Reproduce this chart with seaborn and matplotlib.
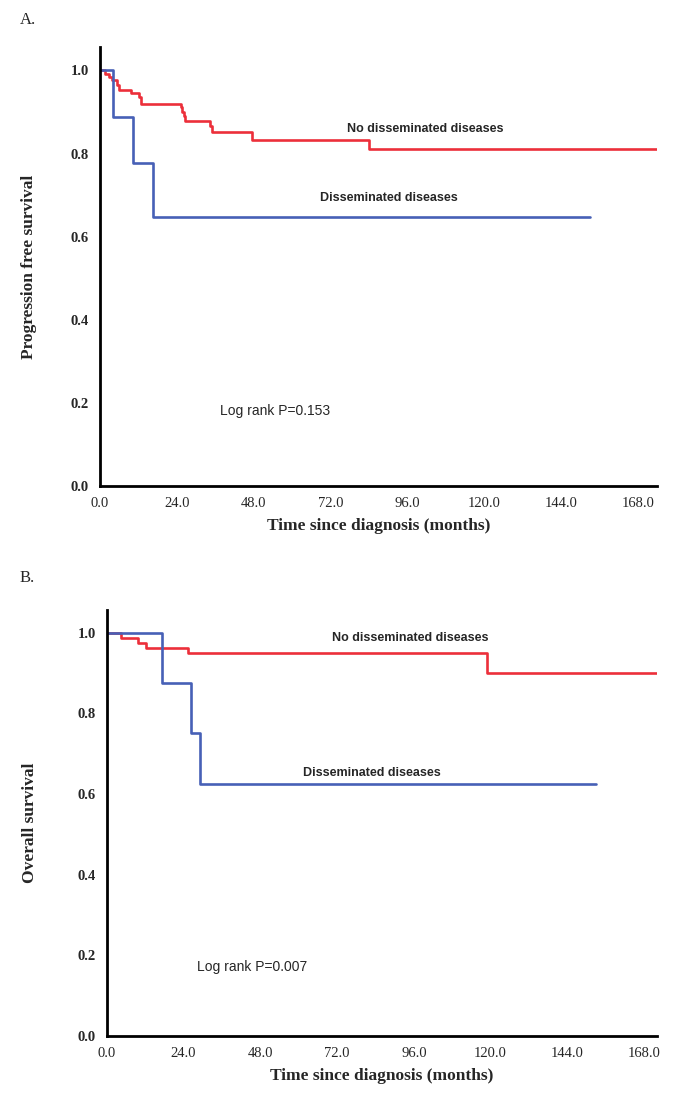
import pandas as pd
import matplotlib
matplotlib.use('Agg')
import matplotlib.pyplot as plt
import seaborn as sns

# Kaplan-Meier step data (months, survival)
pfs_no_time = [0, 1.6, 2.9, 3.9, 5.2, 6.0, 9.6, 12.3, 12.7, 25.2, 25.7, 26.3, 26.6, 34.4, 34.9, 47.4, 83.9, 174]
pfs_no_surv = [1.0, 0.992, 0.984, 0.976, 0.965, 0.954, 0.945, 0.936, 0.918, 0.911, 0.899, 0.891, 0.879, 0.867, 0.851, 0.832, 0.810, 0.810]
pfs_dis_time = [0, 4.2, 10.4, 16.7, 153]
pfs_dis_surv = [1.0, 0.889, 0.778, 0.648, 0.648]

os_no_time = [0, 4.3, 9.6, 12.3, 25.5, 119, 173]
os_no_surv = [1.0, 0.987, 0.975, 0.963, 0.950, 0.900, 0.900]
os_dis_time = [0, 17.2, 26.4, 29.0, 153]
os_dis_surv = [1.0, 0.875, 0.75, 0.625, 0.625]

groups = ['No disseminated diseases', 'Disseminated diseases']
x_ticks = [0, 24, 48, 72, 96, 120, 144, 168]
y_ticks = [0.0, 0.2, 0.4, 0.6, 0.8, 1.0]

sns.set_style('white')
plt.rcParams['font.family'] = ['Liberation Serif', 'DejaVu Serif']

palette = {groups[0]: '#ec2f3a', groups[1]: '#4760b6'}


def make_df(t_no, s_no, t_dis, s_dis):
    a = pd.DataFrame({'time': t_no, 'surv': s_no, 'group': groups[0]})
    b = pd.DataFrame({'time': t_dis, 'surv': s_dis, 'group': groups[1]})
    return pd.concat([a, b], ignore_index=True)


def draw_panel(ax, df, xmax, ylabel, ylabel_x, lbl_no, lbl_dis, pval):
    sns.lineplot(data=df, x='time', y='surv', hue='group', palette=palette,
                 drawstyle='steps-post', estimator=None, sort=False,
                 linewidth=1.9, legend=False, ax=ax)
    ax.set_xlim(0, xmax)
    ax.set_ylim(0, 1.056)
    ax.set_xticks(x_ticks)
    ax.set_xticklabels(['%.1f' % v for v in x_ticks], fontsize=10.5)
    ax.set_yticks(y_ticks)
    ax.set_yticklabels(['%.1f' % v for v in y_ticks], fontsize=10.5, fontweight='bold')
    ax.set_xlabel('Time since diagnosis (months)', fontsize=12.5, fontweight='bold', labelpad=6)
    ax.set_ylabel(ylabel, fontsize=12.5, fontweight='bold')
    ax.yaxis.set_label_coords(ylabel_x, 0.5)
    for side in ['top', 'right']:
        ax.spines[side].set_visible(False)
    for side in ['left', 'bottom']:
        ax.spines[side].set_linewidth(2)
        ax.spines[side].set_color('black')
    ax.tick_params(axis='both', direction='out', length=6, width=1, color='#444444', pad=2)
    ax.text(lbl_no[0], lbl_no[1], groups[0], ha='center', va='center',
            fontsize=9, fontweight='bold', family='Liberation Sans')
    ax.text(lbl_dis[0], lbl_dis[1], groups[1], ha='center', va='center',
            fontsize=9, fontweight='bold', family='Liberation Sans')
    ax.text(pval[0], pval[1], pval[2], ha='left', va='center',
            fontsize=10, family='Liberation Sans')


fig = plt.figure(figsize=(6.85, 11.14), dpi=100)

ax1 = fig.add_axes([0.146, 0.5637, 0.813, 0.394])
draw_panel(ax1, make_df(pfs_no_time, pfs_no_surv, pfs_dis_time, pfs_dis_surv), 174,
           'Progression free survival', -0.113, (101.6, 0.859), (90.3, 0.692),
           (37.5, 0.181, 'Log rank P=0.153'))

ax2 = fig.add_axes([0.156, 0.070, 0.803, 0.3824])
draw_panel(ax2, make_df(os_no_time, os_no_surv, os_dis_time, os_dis_surv), 172,
           'Overall survival', -0.126, (95, 0.986), (82.8, 0.653),
           (28.2, 0.170, 'Log rank P=0.007'))

fig.text(20 / 685, 1 - 20 / 1114, 'A.', fontsize=12, va='center', ha='left')
fig.text(20 / 685, 1 - 578 / 1114, 'B.', fontsize=12, va='center', ha='left')

fig.savefig('out.png', dpi=100)
